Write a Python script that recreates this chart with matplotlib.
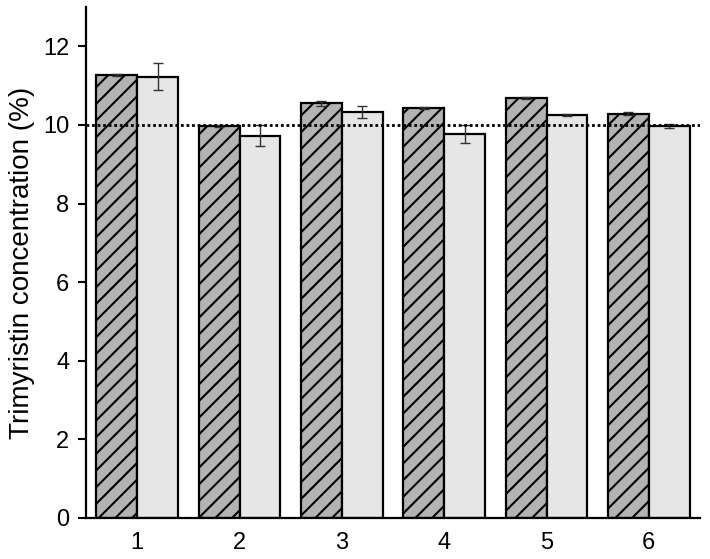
import matplotlib
matplotlib.use("Agg")
import matplotlib.pyplot as plt
import numpy as np

categories = ["1", "2", "3", "4", "5", "6"]
series_a = [11.27, 9.97, 10.55, 10.43, 10.68, 10.29]
err_a = [0.02, 0.02, 0.06, 0.02, 0.02, 0.05]
series_b = [11.23, 9.73, 10.33, 9.77, 10.26, 9.97]
err_b = [0.34, 0.27, 0.16, 0.23, 0.03, 0.05]
reference_level = 10.0
yticks = [0, 2, 4, 6, 8, 10, 12]

plt.rcParams['font.family'] = ['Liberation Sans', 'DejaVu Sans']
plt.rcParams['hatch.linewidth'] = 1.5
plt.rcParams['hatch.color'] = 'black'

fig = plt.figure(figsize=(7.1, 5.59), dpi=100)
ax = fig.add_axes([86/710, 41/559, 614/710, 511/559])

x = np.arange(1, len(categories) + 1)
w = 0.4
ax.bar(x - w/2, series_a, width=w, color='#b3b3b3', edgecolor='black',
       linewidth=1.6, hatch='//', zorder=2)
ax.bar(x + w/2, series_b, width=w, color='#e6e6e6', edgecolor='black',
       linewidth=1.6, zorder=2)
ax.errorbar(x - w/2, series_a, yerr=err_a, fmt='none', ecolor='#333333',
            elinewidth=1, capsize=3.5, capthick=1, zorder=3)
ax.errorbar(x + w/2, series_b, yerr=err_b, fmt='none', ecolor='#333333',
            elinewidth=1, capsize=3.5, capthick=1, zorder=3)
ax.axhline(reference_level, color='black', linestyle=(0, (1, 1)), linewidth=2, zorder=4)

ax.set_xlim(0.5, 6.5)
ax.set_ylim(0, 13)
ax.set_xticks(x)
ax.set_xticklabels(categories, fontsize=17)
ax.set_yticks(yticks)
ax.set_yticklabels([str(t) for t in yticks], fontsize=17)
ax.tick_params(axis='x', length=0, pad=10)
ax.tick_params(axis='y', length=6, width=1.5, direction='out', pad=6)
for s in ['top', 'right']:
    ax.spines[s].set_visible(False)
for s in ['left', 'bottom']:
    ax.spines[s].set_linewidth(1.6)
ax.set_ylabel("Trimyristin concentration (%)", fontsize=20, labelpad=6)

fig.savefig("out.png", dpi=100)
